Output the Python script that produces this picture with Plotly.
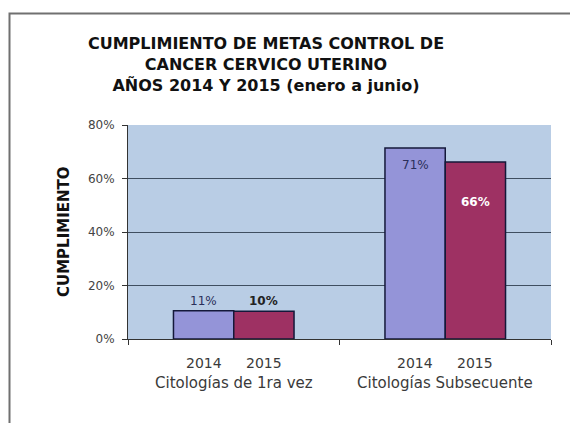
import plotly.graph_objects as go

categories = ["Citologías de 1ra vez", "Citologías Subsecuente"]
years = ["2014", "2015"]
values_2014 = [0.106, 0.714]
values_2015 = [0.104, 0.662]
title_lines = ["CUMPLIMIENTO DE METAS CONTROL DE", "CANCER CERVICO UTERINO", "AÑOS 2014 Y 2015 (enero a junio)"]
y_title = "CUMPLIMIENTO"

FONT = "DejaVu Sans, Verdana, sans-serif"
colors = ["#9494D8", "#9E3163"]
series = [values_2014, values_2015]

fig = go.Figure()
for yr, vals, col in zip(years, series, colors):
    fig.add_trace(go.Bar(
        x=categories, y=vals, name=yr,
        marker=dict(color=col, line=dict(color="#14183A", width=1.5)),
    ))

fig.update_layout(
    width=570, height=423,
    margin=dict(l=128, r=19, t=125, b=84),
    paper_bgcolor="white",
    plot_bgcolor="#B9CDE5",
    barmode="group",
    bargap=0.43,
    bargroupgap=0,
    showlegend=False,
    font=dict(family=FONT, size=12, color="#333333"),
    title=dict(
        text="<br>".join(title_lines),
        font=dict(family=FONT, size=16, color="#111111", weight="bold"),
        x=266 / 570, xanchor="center", xref="container",
        y=1 - 49 / 423, yanchor="top", yref="container",
    ),
)

fig.update_yaxes(
    range=[0, 0.8], dtick=0.2, tickformat=".0%",
    showgrid=True, gridcolor="#3F4E60", gridwidth=1,
    showline=True, linecolor="#333333", linewidth=1,
    ticks="outside", ticklen=5, tickcolor="#333333",
    tickfont=dict(family=FONT, size=12, color="#444444"),
    ticklabelstandoff=5,
    zeroline=False,
)
fig.update_xaxes(
    type="category", tickson="boundaries",
    showline=True, linecolor="#333333", linewidth=1,
    ticks="outside", ticklen=5, tickcolor="#333333",
    showticklabels=False, showgrid=False,
)

# frame around the chart
fig.add_shape(type="rect", xref="paper", yref="paper",
              x0=(9.5 - 128) / 423, x1=1.2, y0=-0.6, y1=(339 - 13.5) / 214,
              line=dict(color="#707070", width=2), fillcolor="rgba(0,0,0,0)", layer="below")

# x axis labels: years under each bar, category under group
bar_half = 30
for cat in categories:
    for yr, dx in zip(years, [-bar_half, bar_half]):
        fig.add_annotation(x=cat, xref="x", y=0, yref="paper", text=yr, showarrow=False,
                           xshift=dx, yshift=-24, yanchor="middle",
                           font=dict(family=FONT, size=14, color="#3A3A3A"))
    fig.add_annotation(x=cat, xref="x", y=0, yref="paper", text=cat, showarrow=False,
                       yshift=-44, yanchor="middle",
                       font=dict(family=FONT, size=15, color="#3A3A3A"))

# value labels
label_shift = [[(10, False, "#2A2F5A"), (10, True, "#222222")],
               [(-17, False, "#2A2F5A"), (-40, True, "#FFFFFF")]]
for ci, cat in enumerate(categories):
    for si, (vals, dx) in enumerate(zip(series, [-bar_half, bar_half])):
        ys, bold, col = label_shift[ci][si]
        txt = f"{vals[ci]*100:.0f}%"
        fig.add_annotation(x=cat, xref="x", y=vals[ci], yref="y", text=txt, showarrow=False,
                           xshift=dx, yshift=ys, yanchor="middle",
                           font=dict(family=FONT, size=12, color=col,
                                     weight="bold" if bold else "normal"))

fig.add_annotation(x=(53 - 128) / 423, xref="paper", y=0.5, yref="paper", text=y_title,
                   textangle=-90, showarrow=False,
                   font=dict(family=FONT, size=15, color="#111111", weight="bold"))

fig.write_html("out.html")
